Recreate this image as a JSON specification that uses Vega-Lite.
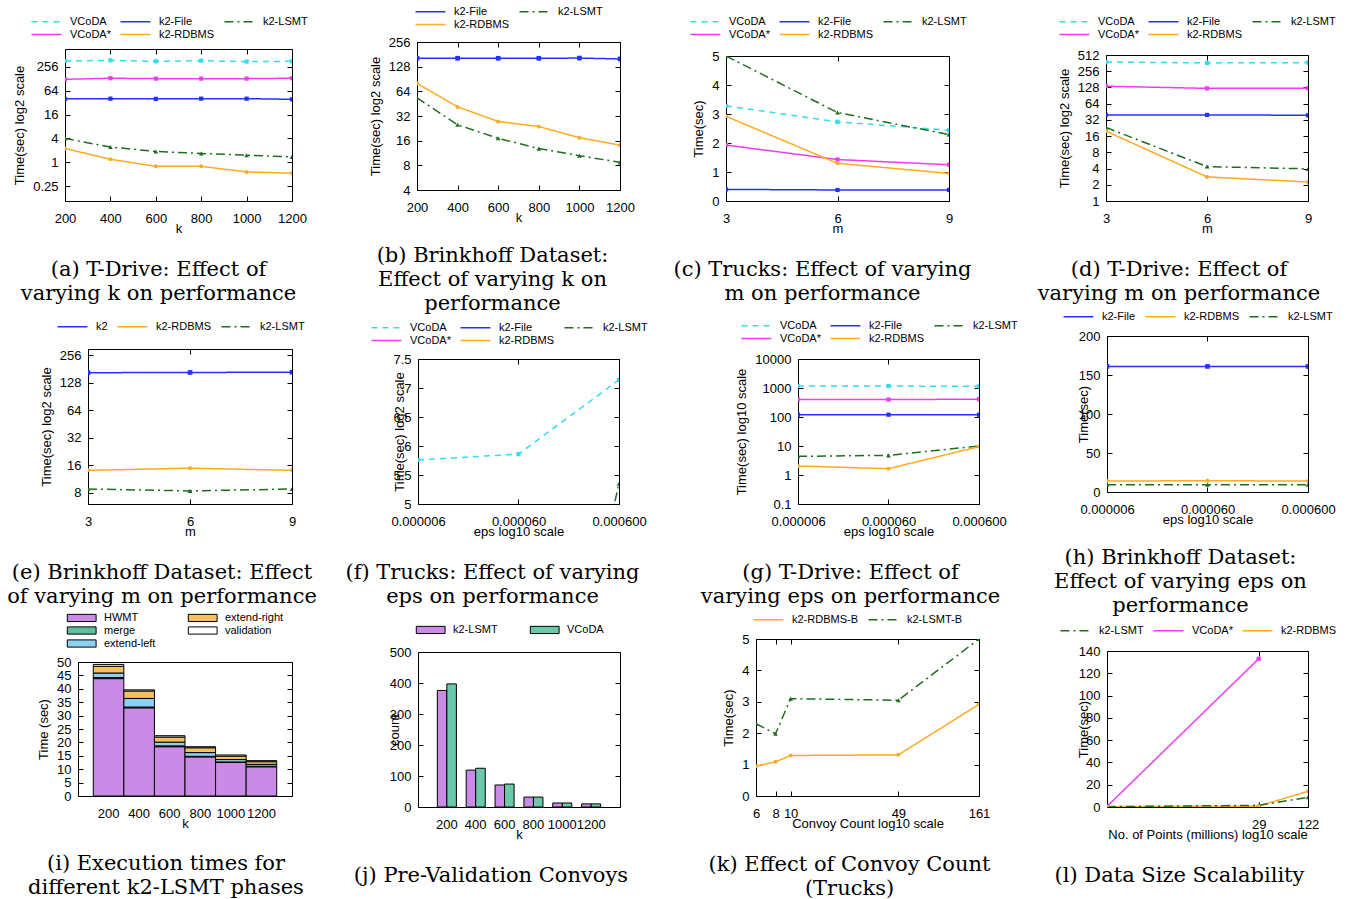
{
"$schema": "https://vega.github.io/schema/vega-lite/v6.json",
"padding": 0,
"background": "white",
"spacing": 0,
"bounds": "full",
"resolve": {"scale": {"color": "independent", "strokeDash": "independent"}, "legend": {"color": "independent", "strokeDash": "independent"}},
"hconcat": [
{"vconcat": [
{"columns":2,"align":"each","bounds":"flush","spacing":0,
"resolve": {"scale": {"color": "independent", "strokeDash": "independent"}, "legend": {"color": "independent", "strokeDash": "independent"}},
"concat":[
{"width":65,"height":49,"view":{"stroke":null},"data":{"values":[]},"mark":"point"},
{"width":265,"height":1,"view":{"stroke":null},"data":{"values":[]},"mark":"point"},
{"width":65,"height":261,"view":{"stroke":null},"data":{"values":[]},"mark":"point"},
{"width":227,"height":152,
"title":{"text":["(a) T-Drive: Effect of","varying k on performance"],"dx":-20},
"data":{"values":[
{"s":"VCoDA","k":200,"t":363},{"s":"VCoDA","k":400,"t":377},{"s":"VCoDA","k":600,"t":356},{"s":"VCoDA","k":800,"t":370},{"s":"VCoDA","k":1000,"t":350},{"s":"VCoDA","k":1200,"t":356},
{"s":"VCoDA*","k":200,"t":125},{"s":"VCoDA*","k":400,"t":133},{"s":"VCoDA*","k":600,"t":130},{"s":"VCoDA*","k":800,"t":130},{"s":"VCoDA*","k":1000,"t":130},{"s":"VCoDA*","k":1200,"t":133},
{"s":"k2-File","k":200,"t":40},{"s":"k2-File","k":400,"t":40.5},{"s":"k2-File","k":600,"t":40},{"s":"k2-File","k":800,"t":40.5},{"s":"k2-File","k":1000,"t":40.5},{"s":"k2-File","k":1200,"t":39},
{"s":"k2-LSMT","k":200,"t":4.0},{"s":"k2-LSMT","k":400,"t":2.42},{"s":"k2-LSMT","k":600,"t":1.88},{"s":"k2-LSMT","k":800,"t":1.67},{"s":"k2-LSMT","k":1000,"t":1.51},{"s":"k2-LSMT","k":1200,"t":1.37},
{"s":"k2-RDBMS","k":200,"t":2.24},{"s":"k2-RDBMS","k":400,"t":1.19},{"s":"k2-RDBMS","k":600,"t":0.79},{"s":"k2-RDBMS","k":800,"t":0.79},{"s":"k2-RDBMS","k":1000,"t":0.57},{"s":"k2-RDBMS","k":1200,"t":0.53}
]},
"encoding":{
"x":{"field":"k","type":"quantitative","scale":{"domain":[200,1200]},"axis":{"values":[200,400,600,800,1000,1200],"format":"d","title":"k","gridDash":[5,142,5,1000]}},
"y":{"field":"t","type":"quantitative","scale":{"type":"log","base":2,"domain":[0.105,729]},"axis":{"values":[0.25,1,4,16,64,256],"format":"~g","title":"Time(sec) log2 scale","gridDash":[5,217,5,1000]}}
},
"layer":[
{"mark":{"type":"line","clip":true},"encoding":{
"color":{"field":"s","type":"nominal","title":null,"scale":{"domain":["VCoDA","k2-File","k2-LSMT","VCoDA*","k2-RDBMS"],"range":["#33ddee","#2233ff","#1e6e1e","#f03cf0","#ffaa22"]},"legend":{"columns":3,"offset":9}},
"strokeDash":{"field":"s","type":"nominal","title":null,"scale":{"domain":["VCoDA","k2-File","k2-LSMT","VCoDA*","k2-RDBMS"],"range":[[6,5],[1,0],[9,4,2,4],[1,0],[1,0]]},"legend":{"columns":3,"offset":9}}}},
{"transform":[{"filter":{"field":"s","oneOf":["VCoDA","k2-File","VCoDA*"]}}],"mark":{"type":"point","shape":"square","filled":true,"size":18,"opacity":1,"clip":true},"encoding":{"color":{"field":"s","type":"nominal","scale":{"domain":["VCoDA","k2-File","k2-LSMT","VCoDA*","k2-RDBMS"],"range":["#33ddee","#2233ff","#1e6e1e","#f03cf0","#ffaa22"]},"legend":null}}},
{"transform":[{"filter":{"field":"s","equal":"k2-LSMT"}}],"mark":{"type":"point","shape":"triangle-up","filled":true,"size":22,"opacity":1,"clip":true},"encoding":{"color":{"field":"s","type":"nominal","scale":{"domain":["VCoDA","k2-File","k2-LSMT","VCoDA*","k2-RDBMS"],"range":["#33ddee","#2233ff","#1e6e1e","#f03cf0","#ffaa22"]},"legend":null}}},
{"transform":[{"filter":{"field":"s","equal":"k2-RDBMS"}}],"mark":{"type":"point","shape":"circle","filled":true,"size":16,"opacity":1,"clip":true},"encoding":{"color":{"field":"s","type":"nominal","scale":{"domain":["VCoDA","k2-File","k2-LSMT","VCoDA*","k2-RDBMS"],"range":["#33ddee","#2233ff","#1e6e1e","#f03cf0","#ffaa22"]},"legend":null}}}
]}
]},
{"columns":2,"align":"each","bounds":"flush","spacing":0,
"resolve": {"scale": {"color": "independent", "strokeDash": "independent"}, "legend": {"color": "independent", "strokeDash": "independent"}},
"concat":[
{"width":88,"height":39,"view":{"stroke":null},"data":{"values":[]},"mark":"point"},
{"width":242,"height":1,"view":{"stroke":null},"data":{"values":[]},"mark":"point"},
{"width":88,"height":259,"view":{"stroke":null},"data":{"values":[]},"mark":"point"},
{"width":204,"height":155,
"title":{"text":["(e) Brinkhoff Dataset: Effect","of varying m on performance"],"dx":-28},
"data":{"values":[
{"s":"k2","m":3,"t":164},{"s":"k2","m":6,"t":165},{"s":"k2","m":9,"t":166},
{"s":"k2-RDBMS","m":3,"t":14.0},{"s":"k2-RDBMS","m":6,"t":14.8},{"s":"k2-RDBMS","m":9,"t":14.0},
{"s":"k2-LSMT","m":3,"t":8.75},{"s":"k2-LSMT","m":6,"t":8.35},{"s":"k2-LSMT","m":9,"t":8.75}
]},
"encoding":{
"x":{"field":"m","type":"quantitative","scale":{"domain":[3,9]},"axis":{"values":[3,6,9],"title":"m","gridDash":[5,145,5,1000]}},
"y":{"field":"t","type":"quantitative","scale":{"type":"log","base":2,"domain":[6,298]},"axis":{"values":[8,16,32,64,128,256],"format":"~g","title":"Time(sec) log2 scale","gridDash":[5,194,5,1000]}}
},
"layer":[
{"mark":{"type":"line","clip":true},"encoding":{
"color":{"field":"s","type":"nominal","title":null,"scale":{"domain":["k2","k2-RDBMS","k2-LSMT"],"range":["#2233ff","#ffaa22","#1e6e1e"]},"legend":{"columns":3,"offset":17}},
"strokeDash":{"field":"s","type":"nominal","title":null,"scale":{"domain":["k2","k2-RDBMS","k2-LSMT"],"range":[[1,0],[1,0],[9,4,2,4]]},"legend":{"columns":3,"offset":17}}}},
{"transform":[{"filter":{"field":"s","equal":"k2"}}],"mark":{"type":"point","shape":"square","filled":true,"size":22,"opacity":1,"clip":true},"encoding":{"color":{"field":"s","type":"nominal","scale":{"domain":["k2","k2-RDBMS","k2-LSMT"],"range":["#2233ff","#ffaa22","#1e6e1e"]},"legend":null}}},
{"transform":[{"filter":{"field":"s","equal":"k2-LSMT"}}],"mark":{"type":"point","shape":"triangle-up","filled":true,"size":22,"opacity":1,"clip":true},"encoding":{"color":{"field":"s","type":"nominal","scale":{"domain":["k2","k2-RDBMS","k2-LSMT"],"range":["#2233ff","#ffaa22","#1e6e1e"]},"legend":null}}},
{"transform":[{"filter":{"field":"s","equal":"k2-RDBMS"}}],"mark":{"type":"point","shape":"circle","filled":true,"size":16,"opacity":1,"clip":true},"encoding":{"color":{"field":"s","type":"nominal","scale":{"domain":["k2","k2-RDBMS","k2-LSMT"],"range":["#2233ff","#ffaa22","#1e6e1e"]},"legend":null}}}
]}
]},
{"columns":2,"align":"each","bounds":"flush","spacing":0,
"resolve": {"scale": {"color": "independent", "strokeDash": "independent"}, "legend": {"color": "independent", "strokeDash": "independent"}},
"concat":[
{"width":78,"height":54,"view":{"stroke":null},"data":{"values":[]},"mark":"point"},
{"width":252,"height":1,"view":{"stroke":null},"data":{"values":[]},"mark":"point"},
{"width":78,"height":237,"view":{"stroke":null},"data":{"values":[]},"mark":"point"},
{"width":214,"height":134,
"title":{"text":["(i) Execution times for","different k2-LSMT phases"],"dx":-19,"offset":23},
"data":{"values":[
{"k":"200","p":"HWMT","o":1,"t":43.8},{"k":"200","p":"merge","o":2,"t":0.4},{"k":"200","p":"extend-left","o":3,"t":1.7},{"k":"200","p":"extend-right","o":4,"t":2.5},{"k":"200","p":"validation","o":5,"t":0.7},
{"k":"400","p":"HWMT","o":1,"t":32.9},{"k":"400","p":"merge","o":2,"t":0.3},{"k":"400","p":"extend-left","o":3,"t":3.2},{"k":"400","p":"extend-right","o":4,"t":2.8},{"k":"400","p":"validation","o":5,"t":0.4},
{"k":"600","p":"HWMT","o":1,"t":18.4},{"k":"600","p":"merge","o":2,"t":0.3},{"k":"600","p":"extend-left","o":3,"t":1.4},{"k":"600","p":"extend-right","o":4,"t":1.9},{"k":"600","p":"validation","o":5,"t":0.5},
{"k":"800","p":"HWMT","o":1,"t":14.6},{"k":"800","p":"merge","o":2,"t":0.2},{"k":"800","p":"extend-left","o":3,"t":1.4},{"k":"800","p":"extend-right","o":4,"t":1.8},{"k":"800","p":"validation","o":5,"t":0.4},
{"k":"1000","p":"HWMT","o":1,"t":12.5},{"k":"1000","p":"merge","o":2,"t":0.2},{"k":"1000","p":"extend-left","o":3,"t":0.9},{"k":"1000","p":"extend-right","o":4,"t":1.3},{"k":"1000","p":"validation","o":5,"t":0.4},
{"k":"1200","p":"HWMT","o":1,"t":10.9},{"k":"1200","p":"merge","o":2,"t":0.2},{"k":"1200","p":"extend-left","o":3,"t":0.7},{"k":"1200","p":"extend-right","o":4,"t":1.0},{"k":"1200","p":"validation","o":5,"t":0.4}
]},
"mark":{"type":"bar","stroke":"black","strokeWidth":1},
"encoding":{
"x":{"field":"k","type":"ordinal","sort":null,"scale":{"paddingInner":0,"paddingOuter":0.5},"axis":{"title":"k","labelAngle":0,"grid":false}},
"y":{"field":"t","type":"quantitative","stack":"zero","scale":{"domain":[0,50]},"axis":{"values":[0,5,10,15,20,25,30,35,40,45,50],"title":"Time (sec)","gridDash":[5,204,5,1000]}},
"color":{"field":"p","type":"nominal","title":null,"scale":{"domain":["HWMT","merge","extend-left","extend-right","validation"],"range":["#c98be6","#5fbf9f","#8fd0f0","#f4c060","#ffffff"]},"legend":{"values":["HWMT","extend-right","merge","validation","extend-left"],"columns":2,"offset":12,"columnPadding":30,"symbolType":"M-4.2,-0.6H0.6V0.6H-4.2Z","symbolSize":144,"symbolStrokeColor":"black","symbolStrokeWidth":1,"labelOffset":5}},
"order":{"field":"o"}
}}
]}
],"spacing":0,"bounds":"full",
"resolve": {"scale": {"color": "independent", "strokeDash": "independent"}, "legend": {"color": "independent", "strokeDash": "independent"}}},

{"vconcat": [
{"columns":2,"align":"each","bounds":"flush","spacing":0,
"resolve": {"scale": {"color": "independent", "strokeDash": "independent"}, "legend": {"color": "independent", "strokeDash": "independent"}},
"concat":[
{"width":87,"height":42,"view":{"stroke":null},"data":{"values":[]},"mark":"point"},
{"width":253,"height":1,"view":{"stroke":null},"data":{"values":[]},"mark":"point"},
{"width":87,"height":276,"view":{"stroke":null},"data":{"values":[]},"mark":"point"},
{"width":203,"height":148,
"title":{"text":["(b) Brinkhoff Dataset:","Effect of varying k on","performance"],"dx":-26,"offset":21},
"data":{"values":[
{"s":"k2-File","k":200,"t":162},{"s":"k2-File","k":400,"t":162},{"s":"k2-File","k":600,"t":162},{"s":"k2-File","k":800,"t":162},{"s":"k2-File","k":1000,"t":163},{"s":"k2-File","k":1200,"t":159},
{"s":"k2-RDBMS","k":200,"t":80},{"s":"k2-RDBMS","k":400,"t":41.3},{"s":"k2-RDBMS","k":600,"t":27.5},{"s":"k2-RDBMS","k":800,"t":23.8},{"s":"k2-RDBMS","k":1000,"t":17.4},{"s":"k2-RDBMS","k":1200,"t":14.1},
{"s":"k2-LSMT","k":200,"t":53.4},{"s":"k2-LSMT","k":400,"t":25},{"s":"k2-LSMT","k":600,"t":17.1},{"s":"k2-LSMT","k":800,"t":12.8},{"s":"k2-LSMT","k":1000,"t":10.5},{"s":"k2-LSMT","k":1200,"t":8.7}
]},
"encoding":{
"x":{"field":"k","type":"quantitative","scale":{"domain":[200,1200]},"axis":{"values":[200,400,600,800,1000,1200],"format":"d","title":"k","gridDash":[5,138,5,1000]}},
"y":{"field":"t","type":"quantitative","scale":{"type":"log","base":2,"domain":[4,256]},"axis":{"values":[4,8,16,32,64,128,256],"format":"~g","title":"Time(sec) log2 scale","gridDash":[5,193,5,1000]}}
},
"layer":[
{"mark":{"type":"line","clip":true},"encoding":{
"color":{"field":"s","type":"nominal","title":null,"scale":{"domain":["k2-File","k2-LSMT","k2-RDBMS"],"range":["#2233ff","#1e6e1e","#ffaa22"]},"legend":{"columns":2,"offset":12}},
"strokeDash":{"field":"s","type":"nominal","title":null,"scale":{"domain":["k2-File","k2-LSMT","k2-RDBMS"],"range":[[1,0],[9,4,2,4],[1,0]]},"legend":{"columns":2,"offset":12}}}},
{"transform":[{"filter":{"field":"s","equal":"k2-File"}}],"mark":{"type":"point","shape":"square","filled":true,"size":22,"opacity":1,"clip":true},"encoding":{"color":{"field":"s","type":"nominal","scale":{"domain":["k2-File","k2-LSMT","k2-RDBMS"],"range":["#2233ff","#1e6e1e","#ffaa22"]},"legend":null}}},
{"transform":[{"filter":{"field":"s","equal":"k2-LSMT"}}],"mark":{"type":"point","shape":"triangle-up","filled":true,"size":22,"opacity":1,"clip":true},"encoding":{"color":{"field":"s","type":"nominal","scale":{"domain":["k2-File","k2-LSMT","k2-RDBMS"],"range":["#2233ff","#1e6e1e","#ffaa22"]},"legend":null}}},
{"transform":[{"filter":{"field":"s","equal":"k2-RDBMS"}}],"mark":{"type":"point","shape":"circle","filled":true,"size":16,"opacity":1,"clip":true},"encoding":{"color":{"field":"s","type":"nominal","scale":{"domain":["k2-File","k2-LSMT","k2-RDBMS"],"range":["#2233ff","#1e6e1e","#ffaa22"]},"legend":null}}}
]}
]},
{"columns":2,"align":"each","bounds":"flush","spacing":0,
"resolve": {"scale": {"color": "independent", "strokeDash": "independent"}, "legend": {"color": "independent", "strokeDash": "independent"}},
"concat":[
{"width":88,"height":41,"view":{"stroke":null},"data":{"values":[]},"mark":"point"},
{"width":252,"height":1,"view":{"stroke":null},"data":{"values":[]},"mark":"point"},
{"width":88,"height":253,"view":{"stroke":null},"data":{"values":[]},"mark":"point"},
{"width":201,"height":145,
"title":{"text":["(f) Trucks: Effect of varying","eps on performance"],"dx":-26},
"data":{"values":[
{"s":"VCoDA","e":0.000006,"t":5.76},{"s":"VCoDA","e":0.00006,"t":5.86},{"s":"VCoDA","e":0.0006,"t":7.14},
{"s":"VCoDA*","e":0.000006,"t":0.9},{"s":"VCoDA*","e":0.00006,"t":1.0},{"s":"VCoDA*","e":0.0006,"t":2.0},
{"s":"k2-File","e":0.000006,"t":-1.3},{"s":"k2-File","e":0.00006,"t":-1.3},{"s":"k2-File","e":0.0006,"t":-1.2},
{"s":"k2-LSMT","e":0.000006,"t":-2.3},{"s":"k2-LSMT","e":0.00006,"t":-2.2},{"s":"k2-LSMT","e":0.0006,"t":5.35},
{"s":"k2-RDBMS","e":0.000006,"t":0.4},{"s":"k2-RDBMS","e":0.00006,"t":0.5},{"s":"k2-RDBMS","e":0.0006,"t":2.5}
]},
"encoding":{
"x":{"field":"e","type":"quantitative","scale":{"type":"log","domain":[0.000006,0.0006]},"axis":{"values":[0.000006,0.00006,0.0006],"format":".6f","title":"eps log10 scale","gridDash":[5,135,5,1000]}},
"y":{"field":"t","type":"quantitative","scale":{"domain":[5,7.5]},"axis":{"values":[5,5.5,6,6.5,7,7.5],"format":"~g","title":"Time(sec) log2 scale","titlePadding":-14,"gridDash":[5,191,5,1000]}}
},
"layer":[
{"mark":{"type":"line","clip":true},"encoding":{
"color":{"field":"s","type":"nominal","title":null,"scale":{"domain":["VCoDA","k2-File","k2-LSMT","VCoDA*","k2-RDBMS"],"range":["#33ddee","#2233ff","#1e6e1e","#f03cf0","#ffaa22"]},"legend":{"columns":3,"offset":13}},
"strokeDash":{"field":"s","type":"nominal","title":null,"scale":{"domain":["VCoDA","k2-File","k2-LSMT","VCoDA*","k2-RDBMS"],"range":[[6,5],[1,0],[9,4,2,4],[1,0],[1,0]]},"legend":{"columns":3,"offset":13}}}},
{"transform":[{"filter":{"field":"s","oneOf":["VCoDA","k2-File","VCoDA*"]}}],"mark":{"type":"point","shape":"square","filled":true,"size":18,"opacity":1,"clip":true},"encoding":{"color":{"field":"s","type":"nominal","scale":{"domain":["VCoDA","k2-File","k2-LSMT","VCoDA*","k2-RDBMS"],"range":["#33ddee","#2233ff","#1e6e1e","#f03cf0","#ffaa22"]},"legend":null}}},
{"transform":[{"filter":{"field":"s","equal":"k2-LSMT"}}],"mark":{"type":"point","shape":"triangle-up","filled":true,"size":22,"opacity":1,"clip":true},"encoding":{"color":{"field":"s","type":"nominal","scale":{"domain":["VCoDA","k2-File","k2-LSMT","VCoDA*","k2-RDBMS"],"range":["#33ddee","#2233ff","#1e6e1e","#f03cf0","#ffaa22"]},"legend":null}}},
{"transform":[{"filter":{"field":"s","equal":"k2-RDBMS"}}],"mark":{"type":"point","shape":"circle","filled":true,"size":16,"opacity":1,"clip":true},"encoding":{"color":{"field":"s","type":"nominal","scale":{"domain":["VCoDA","k2-File","k2-LSMT","VCoDA*","k2-RDBMS"],"range":["#33ddee","#2233ff","#1e6e1e","#f03cf0","#ffaa22"]},"legend":null}}}
]}
]},
{"columns":2,"align":"each","bounds":"flush","spacing":0,
"resolve": {"scale": {"color": "independent", "strokeDash": "independent"}, "legend": {"color": "independent", "strokeDash": "independent"}},
"concat":[
{"width":88,"height":40,"view":{"stroke":null},"data":{"values":[]},"mark":"point"},
{"width":252,"height":1,"view":{"stroke":null},"data":{"values":[]},"mark":"point"},
{"width":88,"height":247,"view":{"stroke":null},"data":{"values":[]},"mark":"point"},
{"width":202,"height":155,
"title":{"text":["(j) Pre-Validation Convoys"],"dx":-28,"offset":24},
"data":{"values":[
{"k":"200","s":"k2-LSMT","c":376},{"k":"200","s":"VCoDA","c":397},
{"k":"400","s":"k2-LSMT","c":119},{"k":"400","s":"VCoDA","c":125},
{"k":"600","s":"k2-LSMT","c":71},{"k":"600","s":"VCoDA","c":74},
{"k":"800","s":"k2-LSMT","c":32},{"k":"800","s":"VCoDA","c":32},
{"k":"1000","s":"k2-LSMT","c":13},{"k":"1000","s":"VCoDA","c":13},
{"k":"1200","s":"k2-LSMT","c":10},{"k":"1200","s":"VCoDA","c":10}
]},
"mark":{"type":"bar","stroke":"black","strokeWidth":1},
"encoding":{
"x":{"field":"k","type":"ordinal","sort":null,"scale":{"paddingInner":0.34,"paddingOuter":0.67},"axis":{"title":"k","labelAngle":0,"grid":false}},
"xOffset":{"field":"s","type":"nominal","scale":{"domain":["k2-LSMT","VCoDA"]}},
"y":{"field":"c","type":"quantitative","scale":{"domain":[0,500]},"axis":{"values":[0,100,200,300,400,500],"title":"count","titlePadding":-12,"gridDash":[5,192,5,1000]}},
"color":{"field":"s","type":"nominal","title":null,"scale":{"domain":["k2-LSMT","VCoDA"],"range":["#c98be6","#6cc8aa"]},"legend":{"columns":2,"offset":16,"columnPadding":30,"symbolType":"M-4.2,-0.6H0.6V0.6H-4.2Z","symbolSize":144,"symbolStrokeColor":"black","symbolStrokeWidth":1,"labelOffset":5}}
}}
]}
],"spacing":0,"bounds":"full",
"resolve": {"scale": {"color": "independent", "strokeDash": "independent"}, "legend": {"color": "independent", "strokeDash": "independent"}}},

{"vconcat": [
{"columns":2,"align":"each","bounds":"flush","spacing":0,
"resolve": {"scale": {"color": "independent", "strokeDash": "independent"}, "legend": {"color": "independent", "strokeDash": "independent"}},
"concat":[
{"width":56,"height":56,"view":{"stroke":null},"data":{"values":[]},"mark":"point"},
{"width":294,"height":1,"view":{"stroke":null},"data":{"values":[]},"mark":"point"},
{"width":56,"height":256,"view":{"stroke":null},"data":{"values":[]},"mark":"point"},
{"width":223,"height":145,
"title":{"text":["(c) Trucks: Effect of varying","m on performance"],"dx":-15},
"data":{"values":[
{"s":"VCoDA","m":3,"t":3.28},{"s":"VCoDA","m":6,"t":2.73},{"s":"VCoDA","m":9,"t":2.44},
{"s":"VCoDA*","m":3,"t":1.93},{"s":"VCoDA*","m":6,"t":1.43},{"s":"VCoDA*","m":9,"t":1.25},
{"s":"k2-File","m":3,"t":0.40},{"s":"k2-File","m":6,"t":0.38},{"s":"k2-File","m":9,"t":0.38},
{"s":"k2-LSMT","m":3,"t":5.0},{"s":"k2-LSMT","m":6,"t":3.05},{"s":"k2-LSMT","m":9,"t":2.29},
{"s":"k2-RDBMS","m":3,"t":2.92},{"s":"k2-RDBMS","m":6,"t":1.30},{"s":"k2-RDBMS","m":9,"t":0.95}
]},
"encoding":{
"x":{"field":"m","type":"quantitative","scale":{"domain":[3,9]},"axis":{"values":[3,6,9],"title":"m","gridDash":[5,135,5,1000]}},
"y":{"field":"t","type":"quantitative","scale":{"domain":[0,5]},"axis":{"values":[0,1,2,3,4,5],"title":"Time(sec)","gridDash":[5,213,5,1000]}}
},
"layer":[
{"mark":{"type":"line","clip":true},"encoding":{
"color":{"field":"s","type":"nominal","title":null,"scale":{"domain":["VCoDA","k2-File","k2-LSMT","VCoDA*","k2-RDBMS"],"range":["#33ddee","#2233ff","#1e6e1e","#f03cf0","#ffaa22"]},"legend":{"columns":3,"offset":16}},
"strokeDash":{"field":"s","type":"nominal","title":null,"scale":{"domain":["VCoDA","k2-File","k2-LSMT","VCoDA*","k2-RDBMS"],"range":[[6,5],[1,0],[9,4,2,4],[1,0],[1,0]]},"legend":{"columns":3,"offset":16}}}},
{"transform":[{"filter":{"field":"s","oneOf":["VCoDA","k2-File","VCoDA*"]}}],"mark":{"type":"point","shape":"square","filled":true,"size":18,"opacity":1,"clip":true},"encoding":{"color":{"field":"s","type":"nominal","scale":{"domain":["VCoDA","k2-File","k2-LSMT","VCoDA*","k2-RDBMS"],"range":["#33ddee","#2233ff","#1e6e1e","#f03cf0","#ffaa22"]},"legend":null}}},
{"transform":[{"filter":{"field":"s","equal":"k2-LSMT"}}],"mark":{"type":"point","shape":"triangle-up","filled":true,"size":22,"opacity":1,"clip":true},"encoding":{"color":{"field":"s","type":"nominal","scale":{"domain":["VCoDA","k2-File","k2-LSMT","VCoDA*","k2-RDBMS"],"range":["#33ddee","#2233ff","#1e6e1e","#f03cf0","#ffaa22"]},"legend":null}}},
{"transform":[{"filter":{"field":"s","equal":"k2-RDBMS"}}],"mark":{"type":"point","shape":"circle","filled":true,"size":16,"opacity":1,"clip":true},"encoding":{"color":{"field":"s","type":"nominal","scale":{"domain":["VCoDA","k2-File","k2-LSMT","VCoDA*","k2-RDBMS"],"range":["#33ddee","#2233ff","#1e6e1e","#f03cf0","#ffaa22"]},"legend":null}}}
]}
]},
{"columns":2,"align":"each","bounds":"flush","spacing":0,
"resolve": {"scale": {"color": "independent", "strokeDash": "independent"}, "legend": {"color": "independent", "strokeDash": "independent"}},
"concat":[
{"width":128,"height":47,"view":{"stroke":null},"data":{"values":[]},"mark":"point"},
{"width":222,"height":1,"view":{"stroke":null},"data":{"values":[]},"mark":"point"},
{"width":128,"height":250,"view":{"stroke":null},"data":{"values":[]},"mark":"point"},
{"width":181,"height":145,
"title":{"text":["(g) T-Drive: Effect of","varying eps on performance"],"dx":-38},
"data":{"values":[
{"s":"VCoDA","e":0.000006,"t":1170},{"s":"VCoDA","e":0.00006,"t":1170},{"s":"VCoDA","e":0.0006,"t":1140},
{"s":"VCoDA*","e":0.000006,"t":405},{"s":"VCoDA*","e":0.00006,"t":400},{"s":"VCoDA*","e":0.0006,"t":410},
{"s":"k2-File","e":0.000006,"t":120},{"s":"k2-File","e":0.00006,"t":120},{"s":"k2-File","e":0.0006,"t":120},
{"s":"k2-LSMT","e":0.000006,"t":4.4},{"s":"k2-LSMT","e":0.00006,"t":4.76},{"s":"k2-LSMT","e":0.0006,"t":10},
{"s":"k2-RDBMS","e":0.000006,"t":2.04},{"s":"k2-RDBMS","e":0.00006,"t":1.65},{"s":"k2-RDBMS","e":0.0006,"t":9.5}
]},
"encoding":{
"x":{"field":"e","type":"quantitative","scale":{"type":"log","domain":[0.000006,0.0006]},"axis":{"values":[0.000006,0.00006,0.0006],"format":".6f","title":"eps log10 scale","gridDash":[5,135,5,1000]}},
"y":{"field":"t","type":"quantitative","scale":{"type":"log","domain":[0.1,10000]},"axis":{"values":[0.1,1,10,100,1000,10000],"format":"~g","title":"Time(sec) log10 scale","gridDash":[5,171,5,1000]}}
},
"layer":[
{"mark":{"type":"line","clip":true},"encoding":{
"color":{"field":"s","type":"nominal","title":null,"scale":{"domain":["VCoDA","k2-File","k2-LSMT","VCoDA*","k2-RDBMS"],"range":["#33ddee","#2233ff","#1e6e1e","#f03cf0","#ffaa22"]},"legend":{"columns":3,"offset":15}},
"strokeDash":{"field":"s","type":"nominal","title":null,"scale":{"domain":["VCoDA","k2-File","k2-LSMT","VCoDA*","k2-RDBMS"],"range":[[6,5],[1,0],[9,4,2,4],[1,0],[1,0]]},"legend":{"columns":3,"offset":15}}}},
{"transform":[{"filter":{"field":"s","oneOf":["VCoDA","k2-File","VCoDA*"]}}],"mark":{"type":"point","shape":"square","filled":true,"size":18,"opacity":1,"clip":true},"encoding":{"color":{"field":"s","type":"nominal","scale":{"domain":["VCoDA","k2-File","k2-LSMT","VCoDA*","k2-RDBMS"],"range":["#33ddee","#2233ff","#1e6e1e","#f03cf0","#ffaa22"]},"legend":null}}},
{"transform":[{"filter":{"field":"s","equal":"k2-LSMT"}}],"mark":{"type":"point","shape":"triangle-up","filled":true,"size":22,"opacity":1,"clip":true},"encoding":{"color":{"field":"s","type":"nominal","scale":{"domain":["VCoDA","k2-File","k2-LSMT","VCoDA*","k2-RDBMS"],"range":["#33ddee","#2233ff","#1e6e1e","#f03cf0","#ffaa22"]},"legend":null}}},
{"transform":[{"filter":{"field":"s","equal":"k2-RDBMS"}}],"mark":{"type":"point","shape":"circle","filled":true,"size":16,"opacity":1,"clip":true},"encoding":{"color":{"field":"s","type":"nominal","scale":{"domain":["VCoDA","k2-File","k2-LSMT","VCoDA*","k2-RDBMS"],"range":["#33ddee","#2233ff","#1e6e1e","#f03cf0","#ffaa22"]},"legend":null}}}
]}
]},
{"columns":2,"align":"each","bounds":"flush","spacing":0,
"resolve": {"scale": {"color": "independent", "strokeDash": "independent"}, "legend": {"color": "independent", "strokeDash": "independent"}},
"concat":[
{"width":86,"height":30,"view":{"stroke":null},"data":{"values":[]},"mark":"point"},
{"width":264,"height":1,"view":{"stroke":null},"data":{"values":[]},"mark":"point"},
{"width":86,"height":260,"view":{"stroke":null},"data":{"values":[]},"mark":"point"},
{"width":223,"height":157,
"title":{"text":["(k) Effect of Convoy Count","(Trucks)"],"dx":-18},
"data":{"values":[
{"s":"k2-RDBMS-B","n":6,"t":0.95},{"s":"k2-RDBMS-B","n":8,"t":1.09},{"s":"k2-RDBMS-B","n":10,"t":1.29},{"s":"k2-RDBMS-B","n":49,"t":1.31},{"s":"k2-RDBMS-B","n":161,"t":2.92},
{"s":"k2-LSMT-B","n":6,"t":2.30},{"s":"k2-LSMT-B","n":8,"t":1.98},{"s":"k2-LSMT-B","n":10,"t":3.10},{"s":"k2-LSMT-B","n":49,"t":3.05},{"s":"k2-LSMT-B","n":161,"t":5.0}
]},
"encoding":{
"x":{"field":"n","type":"quantitative","scale":{"type":"log","domain":[6,161]},"axis":{"values":[6,8,10,49,161],"format":"d","title":"Convoy Count log10 scale","gridDash":[5,147,5,1000]}},
"y":{"field":"t","type":"quantitative","scale":{"domain":[0,5]},"axis":{"values":[0,1,2,3,4,5],"title":"Time(sec)","gridDash":[5,213,5,1000]}}
},
"layer":[
{"mark":{"type":"line","clip":true},"encoding":{
"color":{"field":"s","type":"nominal","title":null,"scale":{"domain":["k2-RDBMS-B","k2-LSMT-B"],"range":["#ffaa22","#1e6e1e"]},"legend":{"columns":2,"offset":14}},
"strokeDash":{"field":"s","type":"nominal","title":null,"scale":{"domain":["k2-RDBMS-B","k2-LSMT-B"],"range":[[1,0],[9,4,2,4]]},"legend":{"columns":2,"offset":14}}}},
{"transform":[{"filter":{"field":"s","equal":"k2-LSMT-B"}}],"mark":{"type":"point","shape":"triangle-up","filled":true,"size":22,"opacity":1,"clip":true},"encoding":{"color":{"field":"s","type":"nominal","scale":{"domain":["k2-RDBMS-B","k2-LSMT-B"],"range":["#ffaa22","#1e6e1e"]},"legend":null}}},
{"transform":[{"filter":{"field":"s","equal":"k2-RDBMS-B"}}],"mark":{"type":"point","shape":"circle","filled":true,"size":16,"opacity":1,"clip":true},"encoding":{"color":{"field":"s","type":"nominal","scale":{"domain":["k2-RDBMS-B","k2-LSMT-B"],"range":["#ffaa22","#1e6e1e"]},"legend":null}}}
]}
]}
],"spacing":0,"bounds":"full",
"resolve": {"scale": {"color": "independent", "strokeDash": "independent"}, "legend": {"color": "independent", "strokeDash": "independent"}}},

{"vconcat": [
{"columns":2,"align":"each","bounds":"flush","spacing":0,
"resolve": {"scale": {"color": "independent", "strokeDash": "independent"}, "legend": {"color": "independent", "strokeDash": "independent"}},
"concat":[
{"width":86,"height":55,"view":{"stroke":null},"data":{"values":[]},"mark":"point"},
{"width":242,"height":1,"view":{"stroke":null},"data":{"values":[]},"mark":"point"},
{"width":86,"height":251,"view":{"stroke":null},"data":{"values":[]},"mark":"point"},
{"width":202,"height":146,
"title":{"text":["(d) T-Drive: Effect of","varying m on performance"],"dx":-28},
"data":{"values":[
{"s":"VCoDA","m":3,"t":380},{"s":"VCoDA","m":6,"t":365},{"s":"VCoDA","m":9,"t":370},
{"s":"VCoDA*","m":3,"t":135},{"s":"VCoDA*","m":6,"t":123},{"s":"VCoDA*","m":9,"t":124},
{"s":"k2-File","m":3,"t":39.6},{"s":"k2-File","m":6,"t":39.6},{"s":"k2-File","m":9,"t":39},
{"s":"k2-LSMT","m":3,"t":23.1},{"s":"k2-LSMT","m":6,"t":4.35},{"s":"k2-LSMT","m":9,"t":3.95},
{"s":"k2-RDBMS","m":3,"t":19.8},{"s":"k2-RDBMS","m":6,"t":2.8},{"s":"k2-RDBMS","m":9,"t":2.25}
]},
"encoding":{
"x":{"field":"m","type":"quantitative","scale":{"domain":[3,9]},"axis":{"values":[3,6,9],"title":"m","gridDash":[5,136,5,1000]}},
"y":{"field":"t","type":"quantitative","scale":{"type":"log","base":2,"domain":[1,512]},"axis":{"values":[1,2,4,8,16,32,64,128,256,512],"format":"~g","title":"Time(sec) log2 scale","gridDash":[5,192,5,1000]}}
},
"layer":[
{"mark":{"type":"line","clip":true},"encoding":{
"color":{"field":"s","type":"nominal","title":null,"scale":{"domain":["VCoDA","k2-File","k2-LSMT","VCoDA*","k2-RDBMS"],"range":["#33ddee","#2233ff","#1e6e1e","#f03cf0","#ffaa22"]},"legend":{"columns":3,"offset":15}},
"strokeDash":{"field":"s","type":"nominal","title":null,"scale":{"domain":["VCoDA","k2-File","k2-LSMT","VCoDA*","k2-RDBMS"],"range":[[6,5],[1,0],[9,4,2,4],[1,0],[1,0]]},"legend":{"columns":3,"offset":15}}}},
{"transform":[{"filter":{"field":"s","oneOf":["VCoDA","k2-File","VCoDA*"]}}],"mark":{"type":"point","shape":"square","filled":true,"size":18,"opacity":1,"clip":true},"encoding":{"color":{"field":"s","type":"nominal","scale":{"domain":["VCoDA","k2-File","k2-LSMT","VCoDA*","k2-RDBMS"],"range":["#33ddee","#2233ff","#1e6e1e","#f03cf0","#ffaa22"]},"legend":null}}},
{"transform":[{"filter":{"field":"s","equal":"k2-LSMT"}}],"mark":{"type":"point","shape":"triangle-up","filled":true,"size":22,"opacity":1,"clip":true},"encoding":{"color":{"field":"s","type":"nominal","scale":{"domain":["VCoDA","k2-File","k2-LSMT","VCoDA*","k2-RDBMS"],"range":["#33ddee","#2233ff","#1e6e1e","#f03cf0","#ffaa22"]},"legend":null}}},
{"transform":[{"filter":{"field":"s","equal":"k2-RDBMS"}}],"mark":{"type":"point","shape":"circle","filled":true,"size":16,"opacity":1,"clip":true},"encoding":{"color":{"field":"s","type":"nominal","scale":{"domain":["VCoDA","k2-File","k2-LSMT","VCoDA*","k2-RDBMS"],"range":["#33ddee","#2233ff","#1e6e1e","#f03cf0","#ffaa22"]},"legend":null}}}
]}
]},
{"columns":2,"align":"each","bounds":"flush","spacing":0,
"resolve": {"scale": {"color": "independent", "strokeDash": "independent"}, "legend": {"color": "independent", "strokeDash": "independent"}},
"concat":[
{"width":87,"height":30,"view":{"stroke":null},"data":{"values":[]},"mark":"point"},
{"width":241,"height":1,"view":{"stroke":null},"data":{"values":[]},"mark":"point"},
{"width":87,"height":284,"view":{"stroke":null},"data":{"values":[]},"mark":"point"},
{"width":201,"height":156,
"title":{"text":["(h) Brinkhoff Dataset:","Effect of varying eps on","performance"],"dx":-27,"offset":21},
"data":{"values":[
{"s":"k2-File","e":0.000006,"t":161},{"s":"k2-File","e":0.00006,"t":161},{"s":"k2-File","e":0.0006,"t":161},
{"s":"k2-RDBMS","e":0.000006,"t":14},{"s":"k2-RDBMS","e":0.00006,"t":14.5},{"s":"k2-RDBMS","e":0.0006,"t":14},
{"s":"k2-LSMT","e":0.000006,"t":9.4},{"s":"k2-LSMT","e":0.00006,"t":9.4},{"s":"k2-LSMT","e":0.0006,"t":9.4}
]},
"encoding":{
"x":{"field":"e","type":"quantitative","scale":{"type":"log","domain":[0.000006,0.0006]},"axis":{"values":[0.000006,0.00006,0.0006],"format":".6f","title":"eps log10 scale","gridDash":[5,146,5,1000]}},
"y":{"field":"t","type":"quantitative","scale":{"domain":[0,200]},"axis":{"values":[0,50,100,150,200],"title":"Time(sec)","titlePadding":-12,"gridDash":[5,191,5,1000]}}
},
"layer":[
{"mark":{"type":"line","clip":true},"encoding":{
"color":{"field":"s","type":"nominal","title":null,"scale":{"domain":["k2-File","k2-RDBMS","k2-LSMT"],"range":["#2233ff","#ffaa22","#1e6e1e"]},"legend":{"columns":3,"offset":14}},
"strokeDash":{"field":"s","type":"nominal","title":null,"scale":{"domain":["k2-File","k2-RDBMS","k2-LSMT"],"range":[[1,0],[1,0],[9,4,2,4]]},"legend":{"columns":3,"offset":14}}}},
{"transform":[{"filter":{"field":"s","equal":"k2-File"}}],"mark":{"type":"point","shape":"square","filled":true,"size":22,"opacity":1,"clip":true},"encoding":{"color":{"field":"s","type":"nominal","scale":{"domain":["k2-File","k2-RDBMS","k2-LSMT"],"range":["#2233ff","#ffaa22","#1e6e1e"]},"legend":null}}},
{"transform":[{"filter":{"field":"s","equal":"k2-LSMT"}}],"mark":{"type":"point","shape":"triangle-up","filled":true,"size":22,"opacity":1,"clip":true},"encoding":{"color":{"field":"s","type":"nominal","scale":{"domain":["k2-File","k2-RDBMS","k2-LSMT"],"range":["#2233ff","#ffaa22","#1e6e1e"]},"legend":null}}},
{"transform":[{"filter":{"field":"s","equal":"k2-RDBMS"}}],"mark":{"type":"point","shape":"circle","filled":true,"size":16,"opacity":1,"clip":true},"encoding":{"color":{"field":"s","type":"nominal","scale":{"domain":["k2-File","k2-RDBMS","k2-LSMT"],"range":["#2233ff","#ffaa22","#1e6e1e"]},"legend":null}}}
]}
]},
{"columns":2,"align":"each","bounds":"flush","spacing":0,
"resolve": {"scale": {"color": "independent", "strokeDash": "independent"}, "legend": {"color": "independent", "strokeDash": "independent"}},
"concat":[
{"width":87,"height":31,"view":{"stroke":null},"data":{"values":[]},"mark":"point"},
{"width":241,"height":1,"view":{"stroke":null},"data":{"values":[]},"mark":"point"},
{"width":87,"height":248,"view":{"stroke":null},"data":{"values":[]},"mark":"point"},
{"width":201,"height":156,
"title":{"text":["(l) Data Size Scalability"],"dx":-28},
"data":{"values":[
{"s":"VCoDA*","n":0.35,"t":0.5},{"s":"VCoDA*","n":29,"t":133},
{"s":"k2-RDBMS","n":0.35,"t":0.3},{"s":"k2-RDBMS","n":29,"t":0.8},{"s":"k2-RDBMS","n":122,"t":14.1},
{"s":"k2-LSMT","n":0.35,"t":0.3},{"s":"k2-LSMT","n":29,"t":1.5},{"s":"k2-LSMT","n":122,"t":8.7}
]},
"encoding":{
"x":{"field":"n","type":"quantitative","scale":{"type":"log","domain":[0.35,122]},"axis":{"values":[29,122],"format":"d","title":"No. of Points (millions) log10 scale","gridDash":[5,146,5,1000]}},
"y":{"field":"t","type":"quantitative","scale":{"domain":[0,140]},"axis":{"values":[0,20,40,60,80,100,120,140],"title":"Time(sec)","titlePadding":-12,"gridDash":[5,191,5,1000]}}
},
"layer":[
{"mark":{"type":"line","clip":true},"encoding":{
"color":{"field":"s","type":"nominal","title":null,"scale":{"domain":["k2-LSMT","VCoDA*","k2-RDBMS"],"range":["#1e6e1e","#f03cf0","#ffaa22"]},"legend":{"columns":3,"offset":15}},
"strokeDash":{"field":"s","type":"nominal","title":null,"scale":{"domain":["k2-LSMT","VCoDA*","k2-RDBMS"],"range":[[9,4,2,4],[1,0],[1,0]]},"legend":{"columns":3,"offset":15}}}},
{"transform":[{"filter":{"field":"s","equal":"VCoDA*"}}],"mark":{"type":"point","shape":"square","filled":true,"size":18,"opacity":1,"clip":true},"encoding":{"color":{"field":"s","type":"nominal","scale":{"domain":["k2-LSMT","VCoDA*","k2-RDBMS"],"range":["#1e6e1e","#f03cf0","#ffaa22"]},"legend":null}}},
{"transform":[{"filter":{"field":"s","equal":"k2-LSMT"}}],"mark":{"type":"point","shape":"triangle-up","filled":true,"size":22,"opacity":1,"clip":true},"encoding":{"color":{"field":"s","type":"nominal","scale":{"domain":["k2-LSMT","VCoDA*","k2-RDBMS"],"range":["#1e6e1e","#f03cf0","#ffaa22"]},"legend":null}}},
{"transform":[{"filter":{"field":"s","equal":"k2-RDBMS"}}],"mark":{"type":"point","shape":"circle","filled":true,"size":16,"opacity":1,"clip":true},"encoding":{"color":{"field":"s","type":"nominal","scale":{"domain":["k2-LSMT","VCoDA*","k2-RDBMS"],"range":["#1e6e1e","#f03cf0","#ffaa22"]},"legend":null}}}
]}
]}
],"spacing":0,"bounds":"full",
"resolve": {"scale": {"color": "independent", "strokeDash": "independent"}, "legend": {"color": "independent", "strokeDash": "independent"}}}
],
"config": {
"font": "Liberation Sans",
"view": {"stroke": "black", "strokeWidth": 1},
"axis": {"domain": false, "grid": true, "gridColor": "black", "gridOpacity": 1, "gridWidth": 1, "ticks": false, "labelFont": "Liberation Sans", "labelFontSize": 13, "labelColor": "black", "titleFont": "Liberation Sans", "titleFontSize": 13, "titleFontWeight": "normal", "titleColor": "black", "labelFlush": false, "labelOverlap": false},
"axisX": {"labelPadding": 11, "titlePadding": -3},
"axisY": {"labelPadding": 7, "titlePadding": 6},
"legend": {"orient": "top", "labelFont": "Liberation Sans", "labelFontSize": 11, "labelColor": "black", "symbolType": "M-4,0H0.6", "symbolSize": 169, "symbolStrokeWidth": 1.5, "labelOffset": 5, "rowPadding": 0, "columnPadding": 6, "layout": {"top": {"anchor": "middle"}}},
"title": {"font": "DejaVu Serif", "fontSize": 21, "fontWeight": "normal", "orient": "bottom", "anchor": "middle", "frame": "group", "lineHeight": 24, "color": "black", "offset": 24},
"line": {"strokeWidth": 1.5}
}
}
